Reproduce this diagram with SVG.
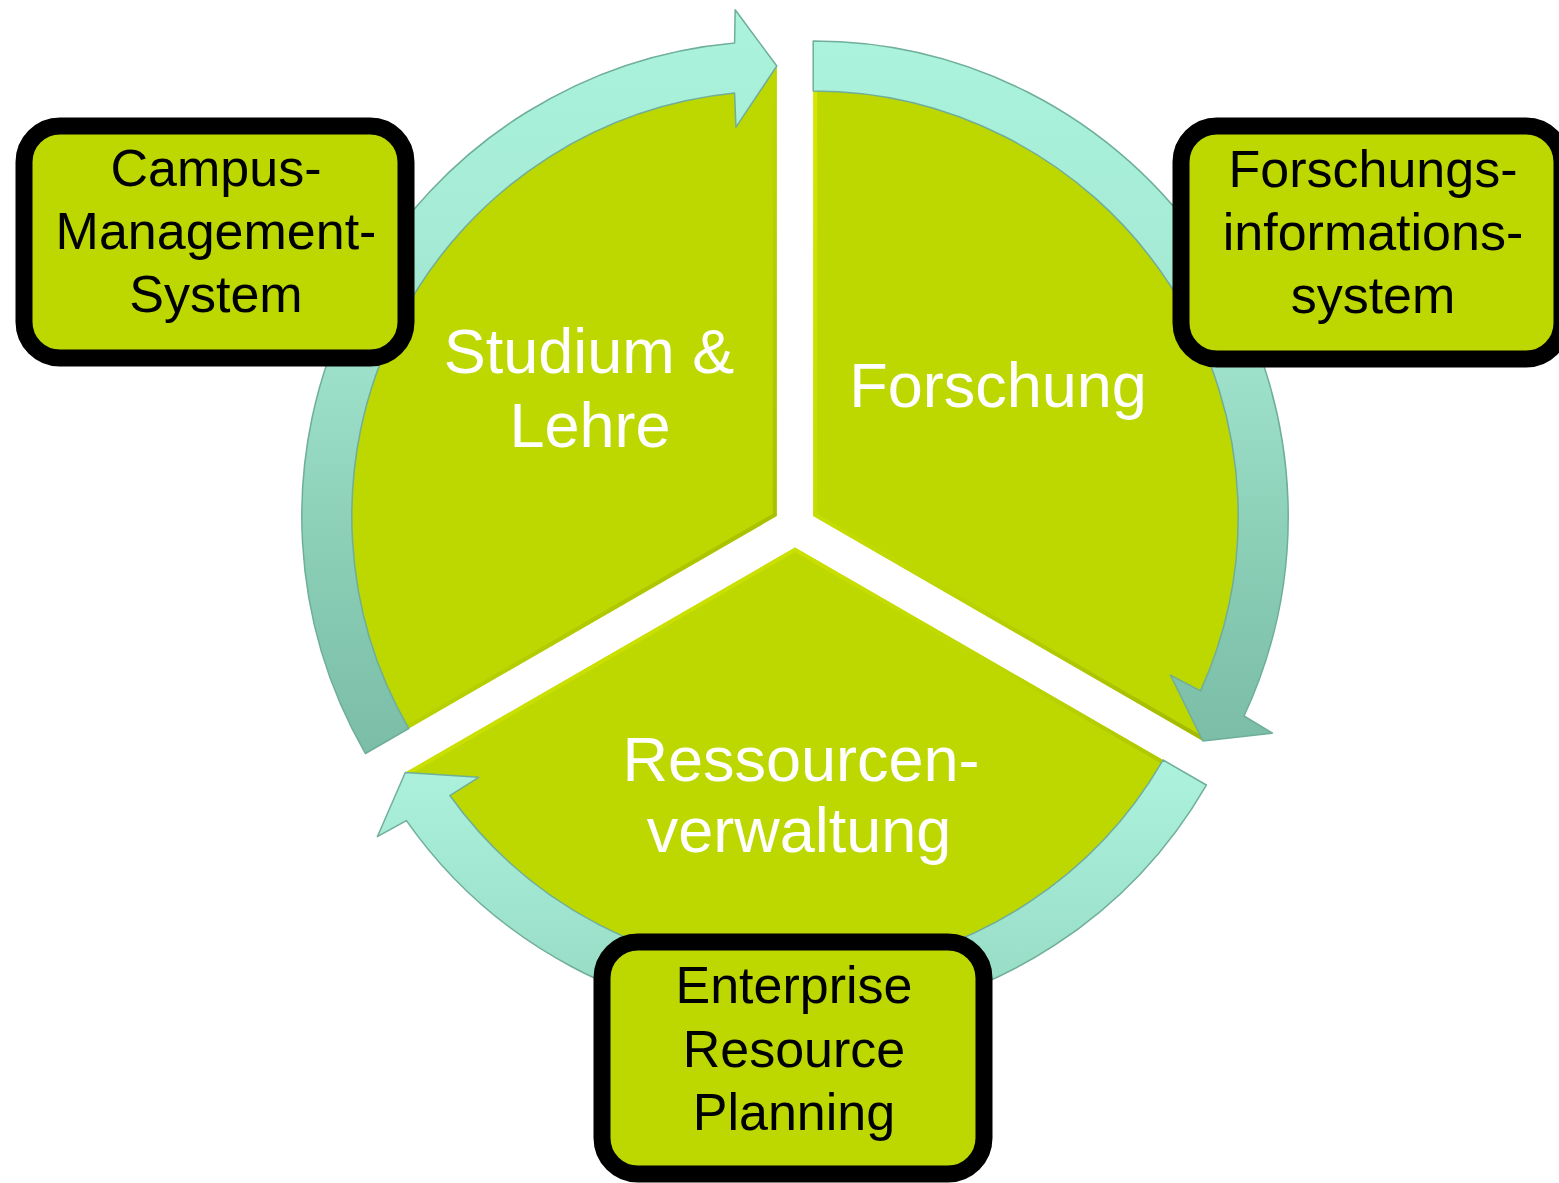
<svg xmlns="http://www.w3.org/2000/svg" width="1559" height="1183" viewBox="0 0 1559 1183">
  <defs>
    <linearGradient id="ringGrad" x1="0" y1="0" x2="0" y2="1">
      <stop offset="0" stop-color="#ABF3DD"/>
      <stop offset="0.3" stop-color="#A5EBD5"/>
      <stop offset="0.5" stop-color="#9CDFC9"/>
      <stop offset="0.7" stop-color="#8CD0B8"/>
      <stop offset="1" stop-color="#7BBDA7"/>
    </linearGradient>
    <linearGradient id="ringGradB" x1="0" y1="0" x2="0" y2="1">
      <stop offset="0" stop-color="#ACF2DC"/>
      <stop offset="1" stop-color="#95D9C3"/>
    </linearGradient>
    <linearGradient id="bevelGrad" x1="0" y1="0" x2="1" y2="1">
      <stop offset="0" stop-color="#E2F000"/>
      <stop offset="0.5" stop-color="#BDD700"/>
      <stop offset="1" stop-color="#93A600"/>
    </linearGradient>
    <path id="pieTL" d="M 776.8 516 L 387.09 741 A 450 450 0 0 1 776.8 66 Z"/>
    <path id="pieTR" d="M 813.2 516 L 813.2 66 A 450 450 0 0 1 1202.91 741 Z"/>
    <path id="pieB" d="M 795 547.5 L 1184.71 772.5 A 450 450 0 0 1 405.29 772.5 Z"/>
    <clipPath id="clipTL"><use href="#pieTL"/></clipPath>
    <clipPath id="clipTR"><use href="#pieTR"/></clipPath>
    <clipPath id="clipB"><use href="#pieB"/></clipPath>
  </defs>
  <style>
    .pie { fill: #BDD700; }
    .bevel { fill: none; stroke: url(#bevelGrad); stroke-width: 8; opacity: 0.7; }
    .ring { fill: url(#ringGrad); stroke: #6FAE99; stroke-width: 1.5; stroke-linejoin: round; }
    .ringB { fill: url(#ringGradB); }
    .box { fill: #BDD700; stroke: #000000; stroke-width: 17; }
    .lbl { font-family: "Liberation Sans", Arial, sans-serif; font-size: 63px; fill: #FFFFFF; text-anchor: middle; }
    .btxt { font-family: "Liberation Sans", Arial, sans-serif; font-size: 52px; fill: #000000; text-anchor: middle; }
  </style>
  <rect width="1559" height="1183" fill="#FFFFFF"/>

  <g id="node-studium">
    <use href="#pieTL" class="pie"/>
    <use href="#pieTL" class="bevel" clip-path="url(#clipTL)"/>
    <text class="lbl"><tspan x="589" y="373">Studium &amp;</tspan><tspan x="590" y="447">Lehre</tspan></text>
  </g>

  <g id="node-forschung">
    <use href="#pieTR" class="pie"/>
    <use href="#pieTR" class="bevel" clip-path="url(#clipTR)"/>
    <text class="lbl" x="998" y="407">Forschung</text>
  </g>

  <g id="node-ressourcen">
    <use href="#pieB" class="pie"/>
    <use href="#pieB" class="bevel" clip-path="url(#clipB)"/>
    <text class="lbl"><tspan x="801" y="781">Ressourcen-</tspan><tspan x="799" y="852">verwaltung</tspan></text>
  </g>

  <g id="connectors">
    <path id="arrow-studium-forschung" class="ring" d="M 365.44 753.5 A 475 475 0 0 1 734.58 42.88 L 735.17 9.71 L 776.8 66 L 735.93 127.14 L 734.59 93.10 A 425 425 0 0 0 408.74 728.5 Z"/>
    <path id="arrow-forschung-ressourcen" class="ring" d="M 813.2 41 A 475 475 0 0 1 1244.05 716 L 1272.48 733.10 L 1202.91 741 L 1170.40 675.04 L 1200.55 690.90 A 425 425 0 0 0 813.2 91 Z"/>
    <path id="arrow-ressourcen-studium" class="ring ringB" d="M 1206.36 785 A 475 475 0 0 1 406.38 820.63 L 377.35 836.70 L 405.29 772.5 L 478.67 777.33 L 449.84 795.53 A 425 425 0 0 0 1163.06 760 Z"/>
  </g>

  <g id="box-cms">
    <rect class="box" x="24" y="126" width="382" height="232" rx="36" ry="36"/>
    <text class="btxt"><tspan x="216" y="186">Campus-</tspan><tspan x="216" y="249">Management-</tspan><tspan x="216" y="312">System</tspan></text>
  </g>

  <g id="box-fis">
    <rect class="box" x="1181" y="126" width="381" height="233" rx="36" ry="36"/>
    <text class="btxt"><tspan x="1373" y="187">Forschungs-</tspan><tspan x="1373" y="250">informations-</tspan><tspan x="1373" y="313">system</tspan></text>
  </g>

  <g id="box-erp">
    <rect class="box" x="602" y="942" width="382" height="232" rx="36" ry="36"/>
    <text class="btxt"><tspan x="794" y="1003">Enterprise</tspan><tspan x="794" y="1067">Resource</tspan><tspan x="794" y="1130">Planning</tspan></text>
  </g>
</svg>
